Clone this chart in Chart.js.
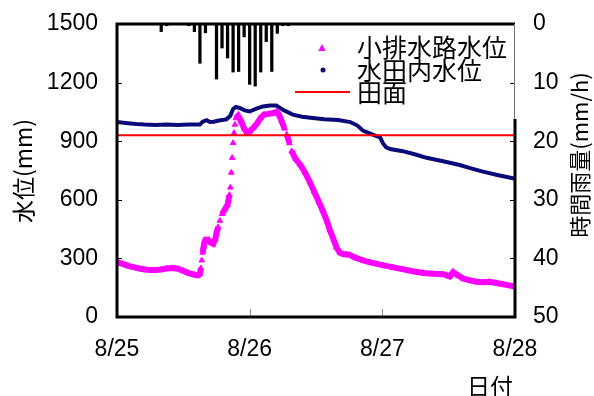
<!DOCTYPE html>
<html><head><meta charset="utf-8">
<script src="https://cdn.jsdelivr.net/npm/chart.js@4.4.0/dist/chart.umd.min.js"></script>
<style>html,body{margin:0;padding:0;background:#fff;}#wrap{width:594px;height:396px;position:relative;}</style>
</head><body><div id="wrap"><canvas id="c" width="594" height="396"></canvas></div>
<script>
// ---- data (x in hours from 8/25 0:00) ----
const xTickHours = [0, 24, 48, 72];
const xTickLabels = ['8/25', '8/26', '8/27', '8/28'];
const levelTicks = [0, 300, 600, 900, 1200, 1500];
const rainTicks = [0, 10, 20, 30, 40, 50];

const rainHours  = [8, 9, 13, 14, 15, 16, 18, 19, 20, 21, 22, 23, 24, 25, 26, 27, 28, 29, 30, 31];
const rainValues = [1.3, 0.3, 0.3, 1.3, 6.7, 1.5, 9.4, 4.1, 5.8, 8.2, 8.1, 2.2, 10.3, 10.6, 8.2, 3.0, 8.1, 1.6, 0.3, 0.3];

const drainHours = [0,1,2,3,4,5,6,7,8,9,10,11,12,13,14,14.7,15.0,15.17,15.33,15.5,15.67,15.83,16.0,16.5,17.0,17.4,17.8,18.0,18.3,18.6,19.0,19.5,20.0,20.17,20.33,20.5,20.67,20.83,21.0,21.17,21.33,21.5,21.9,22.5,23.0,23.5,24.0,24.7,25.3,26.0,26.6,27.5,28.3,28.9,29.4,29.8,30.3,30.7,31.2,31.6,32.3,33.1,34.0,34.9,35.7,36.5,37.2,38.0,38.5,39.2,39.7,40.3,40.9,41.5,42.1,43.0,44.5,46.0,48.2,50.0,51.8,53.5,55.4,57.2,59.0,60.2,60.8,61.7,62.6,63.8,65.0,66.2,67.4,68.6,69.8,70.8,71.7,72];
const drainLevel = [281,272,262,255,248,243,240,240,243,248,251,247,236,224,216,213,222,250,290,330,360,385,395,395,380,375,400,430,460,493,528,550,575,600,625,663,739,815,891,942,985,1018,1030,1000,965,945,950,970,990,1020,1036,1040,1044,1050,1030,1002,965,934,890,849,810,781,740,690,640,590,545,490,445,395,357,330,322,320,318,305,290,278,264,254,244,234,225,221,219,208,230,213,197,188,180,178,180,174,168,162,158,155];

const paddyHours = [0,2,3.5,5,7,9,11,13,15,15.5,16.2,16.8,17.5,18.2,19,19.8,20.5,21.0,21.5,22.2,23.1,24,25.1,26.4,27.7,28.8,30,31.8,33.5,35,37.5,40,42.2,43.5,44.5,46.6,47.6,48.1,48.7,49.4,51.7,54,56,59,62,64.2,66.2,69,71.6,72];
const paddyLevel = [998,992,988,985,983,985,983,985,985,1000,1008,998,1000,1005,1008,1012,1030,1065,1075,1070,1058,1052,1065,1078,1083,1083,1061,1036,1025,1020,1012,1008,998,980,954,930,920,890,868,860,849,832,815,797,778,760,744,726,710,708];

const fieldHours = [0, 72];
const fieldLevel = [930, 930];

const legendLabels = ['小排水路水位', '水田内水位', '田面'];
const axisTitles = { left: '水位(mm)', right: '時間雨量(mm/h)', bottom: '日付' };

// ---- build ----
const pts = (xs, ys) => xs.map((x, i) => ({ x: x, y: ys[i] }));
const NUM_FONT = '"Liberation Sans", Arial, "Noto Sans CJK JP", sans-serif';
const CJK_FONT = '"Noto Sans CJK JP", "Liberation Sans", sans-serif';
const MAGENTA = '#ff00ff', NAVY = '#0a0a78', RED = '#ff0000';

const decor = {
  id: 'decor',
  afterDraw(chart) {
    const ctx = chart.ctx, a = chart.chartArea;
    const sx = chart.scales.x, sy = chart.scales.y, sr = chart.scales.y2;
    ctx.save();
    // inner ticks
    ctx.strokeStyle = '#000'; ctx.lineWidth = 1;
    levelTicks.slice(1, -1).forEach(v => {
      const y = Math.round(sy.getPixelForValue(v)) + 0.5;
      ctx.beginPath(); ctx.moveTo(a.left, y); ctx.lineTo(a.left + 5, y); ctx.stroke();
    });
    rainTicks.slice(1, -1).forEach(v => {
      const y = Math.round(sr.getPixelForValue(v)) + 0.5;
      ctx.beginPath(); ctx.moveTo(a.right, y); ctx.lineTo(a.right - 5, y); ctx.stroke();
    });
    ctx.strokeStyle = '#888';
    xTickHours.slice(1, -1).forEach(v => {
      const x = Math.round(sx.getPixelForValue(v)) + 0.5;
      ctx.beginPath(); ctx.moveTo(x, a.bottom); ctx.lineTo(x, a.bottom - 8); ctx.stroke();
    });
    // frame
    const mid = a.top + 95;
    ctx.strokeStyle = '#000'; ctx.lineWidth = 3;
    ctx.beginPath();
    ctx.moveTo(a.right, mid); ctx.lineTo(a.right, a.bottom); ctx.lineTo(a.left, a.bottom);
    ctx.lineTo(a.left, a.top); ctx.lineTo(a.right, a.top);
    ctx.stroke();
    ctx.strokeStyle = '#777'; ctx.lineWidth = 1;
    ctx.beginPath(); ctx.moveTo(a.right - 0.5, a.top); ctx.lineTo(a.right - 0.5, mid); ctx.stroke();
    // legend
    ctx.fillStyle = MAGENTA;
    ctx.beginPath(); ctx.moveTo(322, 44); ctx.lineTo(318.3, 51); ctx.lineTo(325.7, 51); ctx.closePath(); ctx.fill();
    ctx.fillStyle = NAVY;
    ctx.beginPath(); ctx.arc(323, 70, 2.5, 0, Math.PI * 2); ctx.fill();
    ctx.strokeStyle = RED; ctx.lineWidth = 2;
    ctx.beginPath(); ctx.moveTo(295, 92); ctx.lineTo(350, 92); ctx.stroke();
    ctx.fillStyle = '#000';
    ctx.font = '25px ' + CJK_FONT;
    ctx.textBaseline = 'middle'; ctx.textAlign = 'left';
    ctx.fillText(legendLabels[0], 357, 47.5);
    ctx.fillText(legendLabels[1], 357, 70);
    ctx.fillText(legendLabels[2], 357, 92.5);
    // axis titles
    ctx.textAlign = 'center';
    ctx.font = '23px ' + CJK_FONT;
    ctx.save(); ctx.translate(23, 171); ctx.rotate(-Math.PI / 2); ctx.fillText(axisTitles.left, 0, 0); ctx.restore();
    ctx.font = '22px ' + CJK_FONT;
    ctx.save(); ctx.translate(580, 155); ctx.rotate(-Math.PI / 2); ctx.fillText(axisTitles.right, 0, 0); ctx.restore();
    ctx.font = '23px ' + CJK_FONT;
    ctx.fillText(axisTitles.bottom, 490, 386);
    ctx.restore();
  }
};

new Chart(document.getElementById('c'), {
  type: 'line',
  data: {
    datasets: [
      { type: 'line', label: legendLabels[2], data: pts(fieldHours, fieldLevel), yAxisID: 'y', borderColor: RED, borderWidth: 2, pointRadius: 0, order: 0 },
      { type: 'line', label: legendLabels[0], data: pts(drainHours, drainLevel), yAxisID: 'y', borderColor: MAGENTA, borderWidth: 6,
        pointStyle: 'triangle', pointRadius: 3.2, pointBackgroundColor: MAGENTA, pointBorderColor: MAGENTA, pointBorderWidth: 1, order: 1,
        segment: { borderColor: c => (Math.abs(c.p1.x - c.p0.x) < 2.5 && Math.abs(c.p1.y - c.p0.y) > 6) ? 'rgba(0,0,0,0)' : MAGENTA } },
      { type: 'line', label: legendLabels[1], data: pts(paddyHours, paddyLevel), yAxisID: 'y', borderColor: NAVY, borderWidth: 4, pointRadius: 0, order: 2 },
      { type: 'bar', label: '時間雨量', data: pts(rainHours, rainValues), yAxisID: 'y2', backgroundColor: '#000', barThickness: 2.6, order: 3 }
    ]
  },
  options: {
    responsive: false, animation: false, devicePixelRatio: 1,
    layout: { padding: { top: 24, left: 0, right: 0, bottom: 0 } },
    plugins: { legend: { display: false }, tooltip: { enabled: false } },
    elements: { line: { tension: 0 } },
    scales: {
      x: { type: 'linear', min: 0, max: 72, offset: false,
        afterBuildTicks: s => { s.ticks = xTickHours.map(v => ({ value: v })); },
        afterFit: s => { s.height = 79; s.paddingLeft = 0; s.paddingRight = 0; },
        ticks: { callback: (v) => xTickLabels[xTickHours.indexOf(v)], padding: 19, maxRotation: 0, autoSkip: false, color: '#000', font: { family: NUM_FONT, size: 23 } },
        grid: { display: false, drawTicks: false }, border: { display: false } },
      y: { type: 'linear', position: 'left', min: 0, max: 1500,
        afterBuildTicks: s => { s.ticks = levelTicks.map(v => ({ value: v })); },
        afterFit: s => { s.width = 117; s.paddingTop = 0; s.paddingBottom = 0; },
        ticks: { callback: v => String(v), padding: 19, color: '#000', font: { family: NUM_FONT, size: 23 } },
        grid: { display: false, drawTicks: false }, border: { display: false } },
      y2: { type: 'linear', position: 'right', min: 0, max: 50, reverse: true,
        afterBuildTicks: s => { s.ticks = rainTicks.map(v => ({ value: v })); },
        afterFit: s => { s.width = 79; s.paddingTop = 0; s.paddingBottom = 0; },
        ticks: { callback: v => String(v), padding: 18, color: '#000', font: { family: NUM_FONT, size: 23 } },
        grid: { display: false, drawTicks: false }, border: { display: false } }
    }
  },
  plugins: [decor]
});
</script>
</body></html>
